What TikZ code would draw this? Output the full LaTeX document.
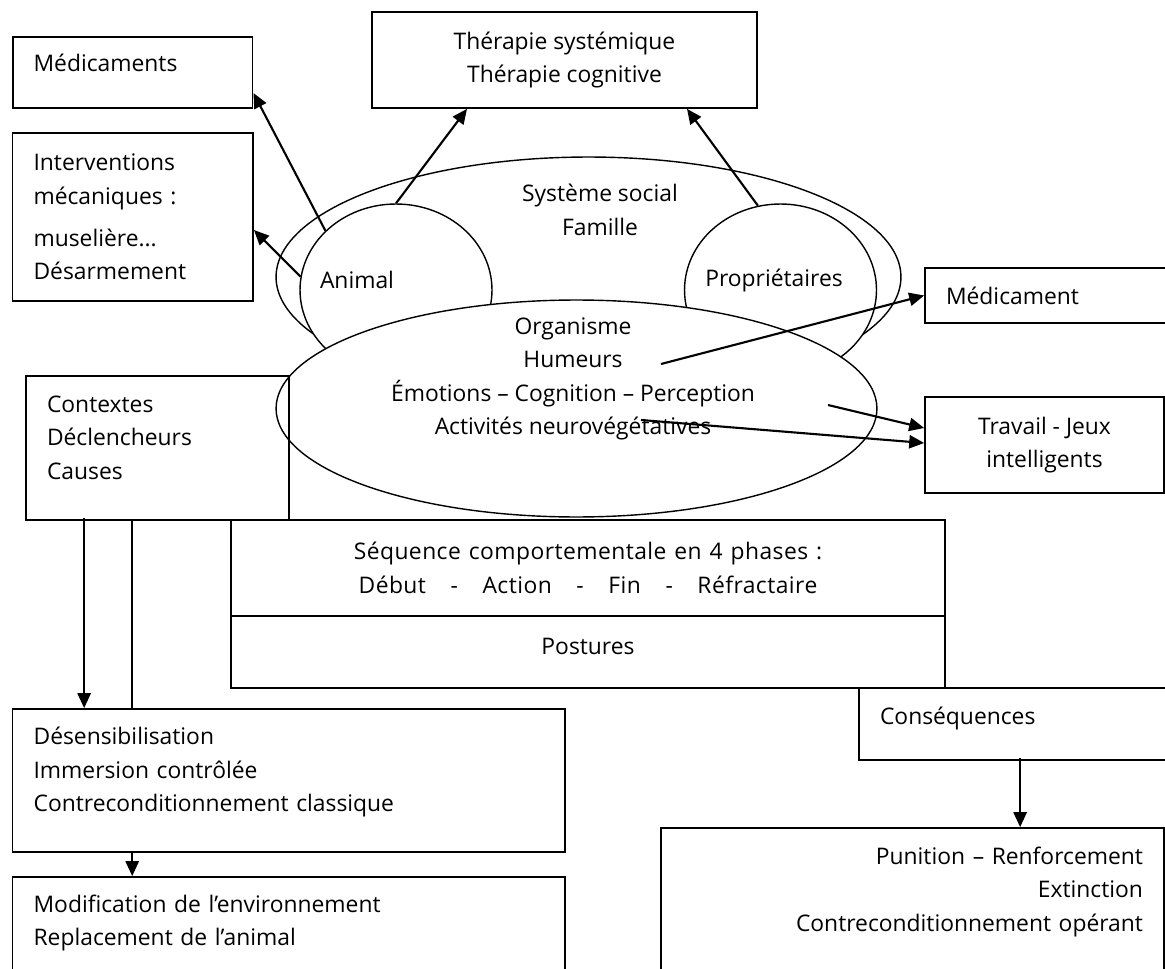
\documentclass[tikz,border=0pt]{standalone}
\usepackage{fontspec}
\setmainfont{Open Sans}
\usetikzlibrary{arrows.meta,shapes.geometric}

\newcommand{\phgap}{\hspace{14pt}}
\newcommand{\wgap}{\hspace{4.5pt}}

\begin{document}
\begin{tikzpicture}[x=0.02cm, y=-0.02cm,
  font=\fontsize{13}{19}\selectfont,
  box/.style={draw, line width=1pt, inner sep=0pt, align=left},
  blob/.style={draw, ellipse, fill=white, line width=0.8pt, inner sep=0pt},
  arr/.style={-{Triangle[length=8.5pt,width=7.5pt]}, line width=1.2pt}]

\useasboundingbox (0,0) rectangle (1165,969);
\clip (0,0) rectangle (1165,969);

% social system with animal and owners
\node[blob, minimum width=12.5cm, minimum height=4.8cm] (sys) at (588.5,277) {};
\node[align=center] (systxt) at (600,210) {Système social\\Famille};
\node[blob, minimum width=3.84cm, minimum height=3.44cm] (anim) at (396,290) {};
\node[blob, minimum width=3.84cm, minimum height=3.44cm] (own) at (780.5,290) {};
\node (animtxt) at (357,280) {Animal};
\node (owntxt) at (774,280) {Propriétaires};

% organism
\node[blob, minimum width=12.02cm, minimum height=4.34cm] (org) at (576.5,408.5) {};
\node[align=center] (orgtxt) at (573,379)
  {Organisme\\Humeurs\\Émotions – Cognition – Perception\\Activités neurovégétatives};

% boxes on the left
\node[box, minimum width=4.8cm, minimum height=1.42cm, text width=3.96cm, text depth=11.4pt]
  (med) at (132.6,72.5) {Médicaments};
\node[box, minimum width=4.81cm, minimum height=3.36cm, text width=3.97cm]
  (interv) at (132.8,217) {Interventions\\mécaniques :\\[5pt]muselière...\\Désarmement};
\node[box, minimum width=5.26cm, minimum height=2.88cm, text width=4.42cm, text depth=50pt]
  (ctx) at (157.5,448) {Contextes\\Déclencheurs\\Causes};
\node[box, minimum width=11.05cm, minimum height=2.86cm, text width=10.21cm, text depth=50.5pt]
  (desens) at (288.8,780.5) {Désensibilisation\\Immersion contrôlée\\Contreconditionnement classique};
\node[box, minimum width=11.05cm, minimum height=2.16cm, text width=10.21cm, text depth=31pt]
  (modif) at (288.8,931) {Modification de l’environnement\\Replacement de l’animal};

% boxes on top and right
\node[box, align=center, minimum width=7.7cm, minimum height=1.92cm]
  (thera) at (564.5,60) {Thérapie systémique\\Thérapie cognitive};
\node[box, minimum width=5.1cm, minimum height=1.1cm, text width=4.26cm]
  (medic) at (1052.5,295.5) {Médicament};
\node[box, align=center, minimum width=4.78cm, minimum height=1.92cm]
  (travail) at (1044.5,445) {Travail - Jeux\\intelligents};

% behaviour sequence
\node[box, align=center, minimum width=14.28cm, minimum height=1.92cm,
  font=\fontsize{13}{19}\selectfont\addfontfeatures{LetterSpace=2}]
  (seq) at (588,568) {Séquence\wgap comportementale\wgap en\wgap 4\wgap phases\wgap :\\
  Début\phgap-\phgap Action\phgap-\phgap Fin\phgap-\phgap Réfractaire};
\node[box, align=center, minimum width=14.28cm, minimum height=1.44cm, text depth=6.5pt]
  (post) at (588,652) {Postures};
\node[box, minimum width=6.42cm, minimum height=1.44cm, text width=5.58cm, text depth=9.7pt]
  (cons) at (1019.5,724) {Conséquences};
\node[box, align=right, minimum width=10.06cm, minimum height=2.94cm, text width=9.22cm, text depth=52.3pt]
  (puni) at (912.5,901.5) {Punition – Renforcement\\Extinction\\Contreconditionnement opérant};

% arrows from the circles
\draw[arr] (anim.140) -- ([yshift=-0.41cm]med.east);
\draw[arr] (anim.172) -- ([yshift=-0.26cm]interv.east);
\draw[arr] (anim.north) -- ([xshift=-1.95cm]thera.south);
\draw[arr] (own.105) -- ([xshift=2.45cm]thera.south);

% arrows out of the organism
\coordinate (humr) at (661,364);
\coordinate (perc) at (828,405);
\coordinate (neuro) at (641,420);
\draw[arr] (humr) -- (medic.west);
\draw[arr] (perc) -- ([yshift=0.34cm]travail.west);
\draw[arr] (neuro) -- ([yshift=0.04cm]travail.west);

% vertical links
\coordinate (ctxa) at ([xshift=1.18cm,yshift=0.06cm]ctx.south west);
\coordinate (ctxb) at ([xshift=2.14cm]ctx.south west);
\coordinate (desb) at ([xshift=2.41cm]desens.south west);
\coordinate (consa) at ([xshift=3.24cm,yshift=0.06cm]cons.south west);
\draw[arr] (ctxa) -- (ctxa |- desens.north);
\draw[line width=1.2pt] (ctxb) -- (ctxb |- desens.north);
\draw[arr] (desb) -- (desb |- modif.north);
\draw[arr] (consa) -- (consa |- puni.north);

\end{tikzpicture}
\end{document}
